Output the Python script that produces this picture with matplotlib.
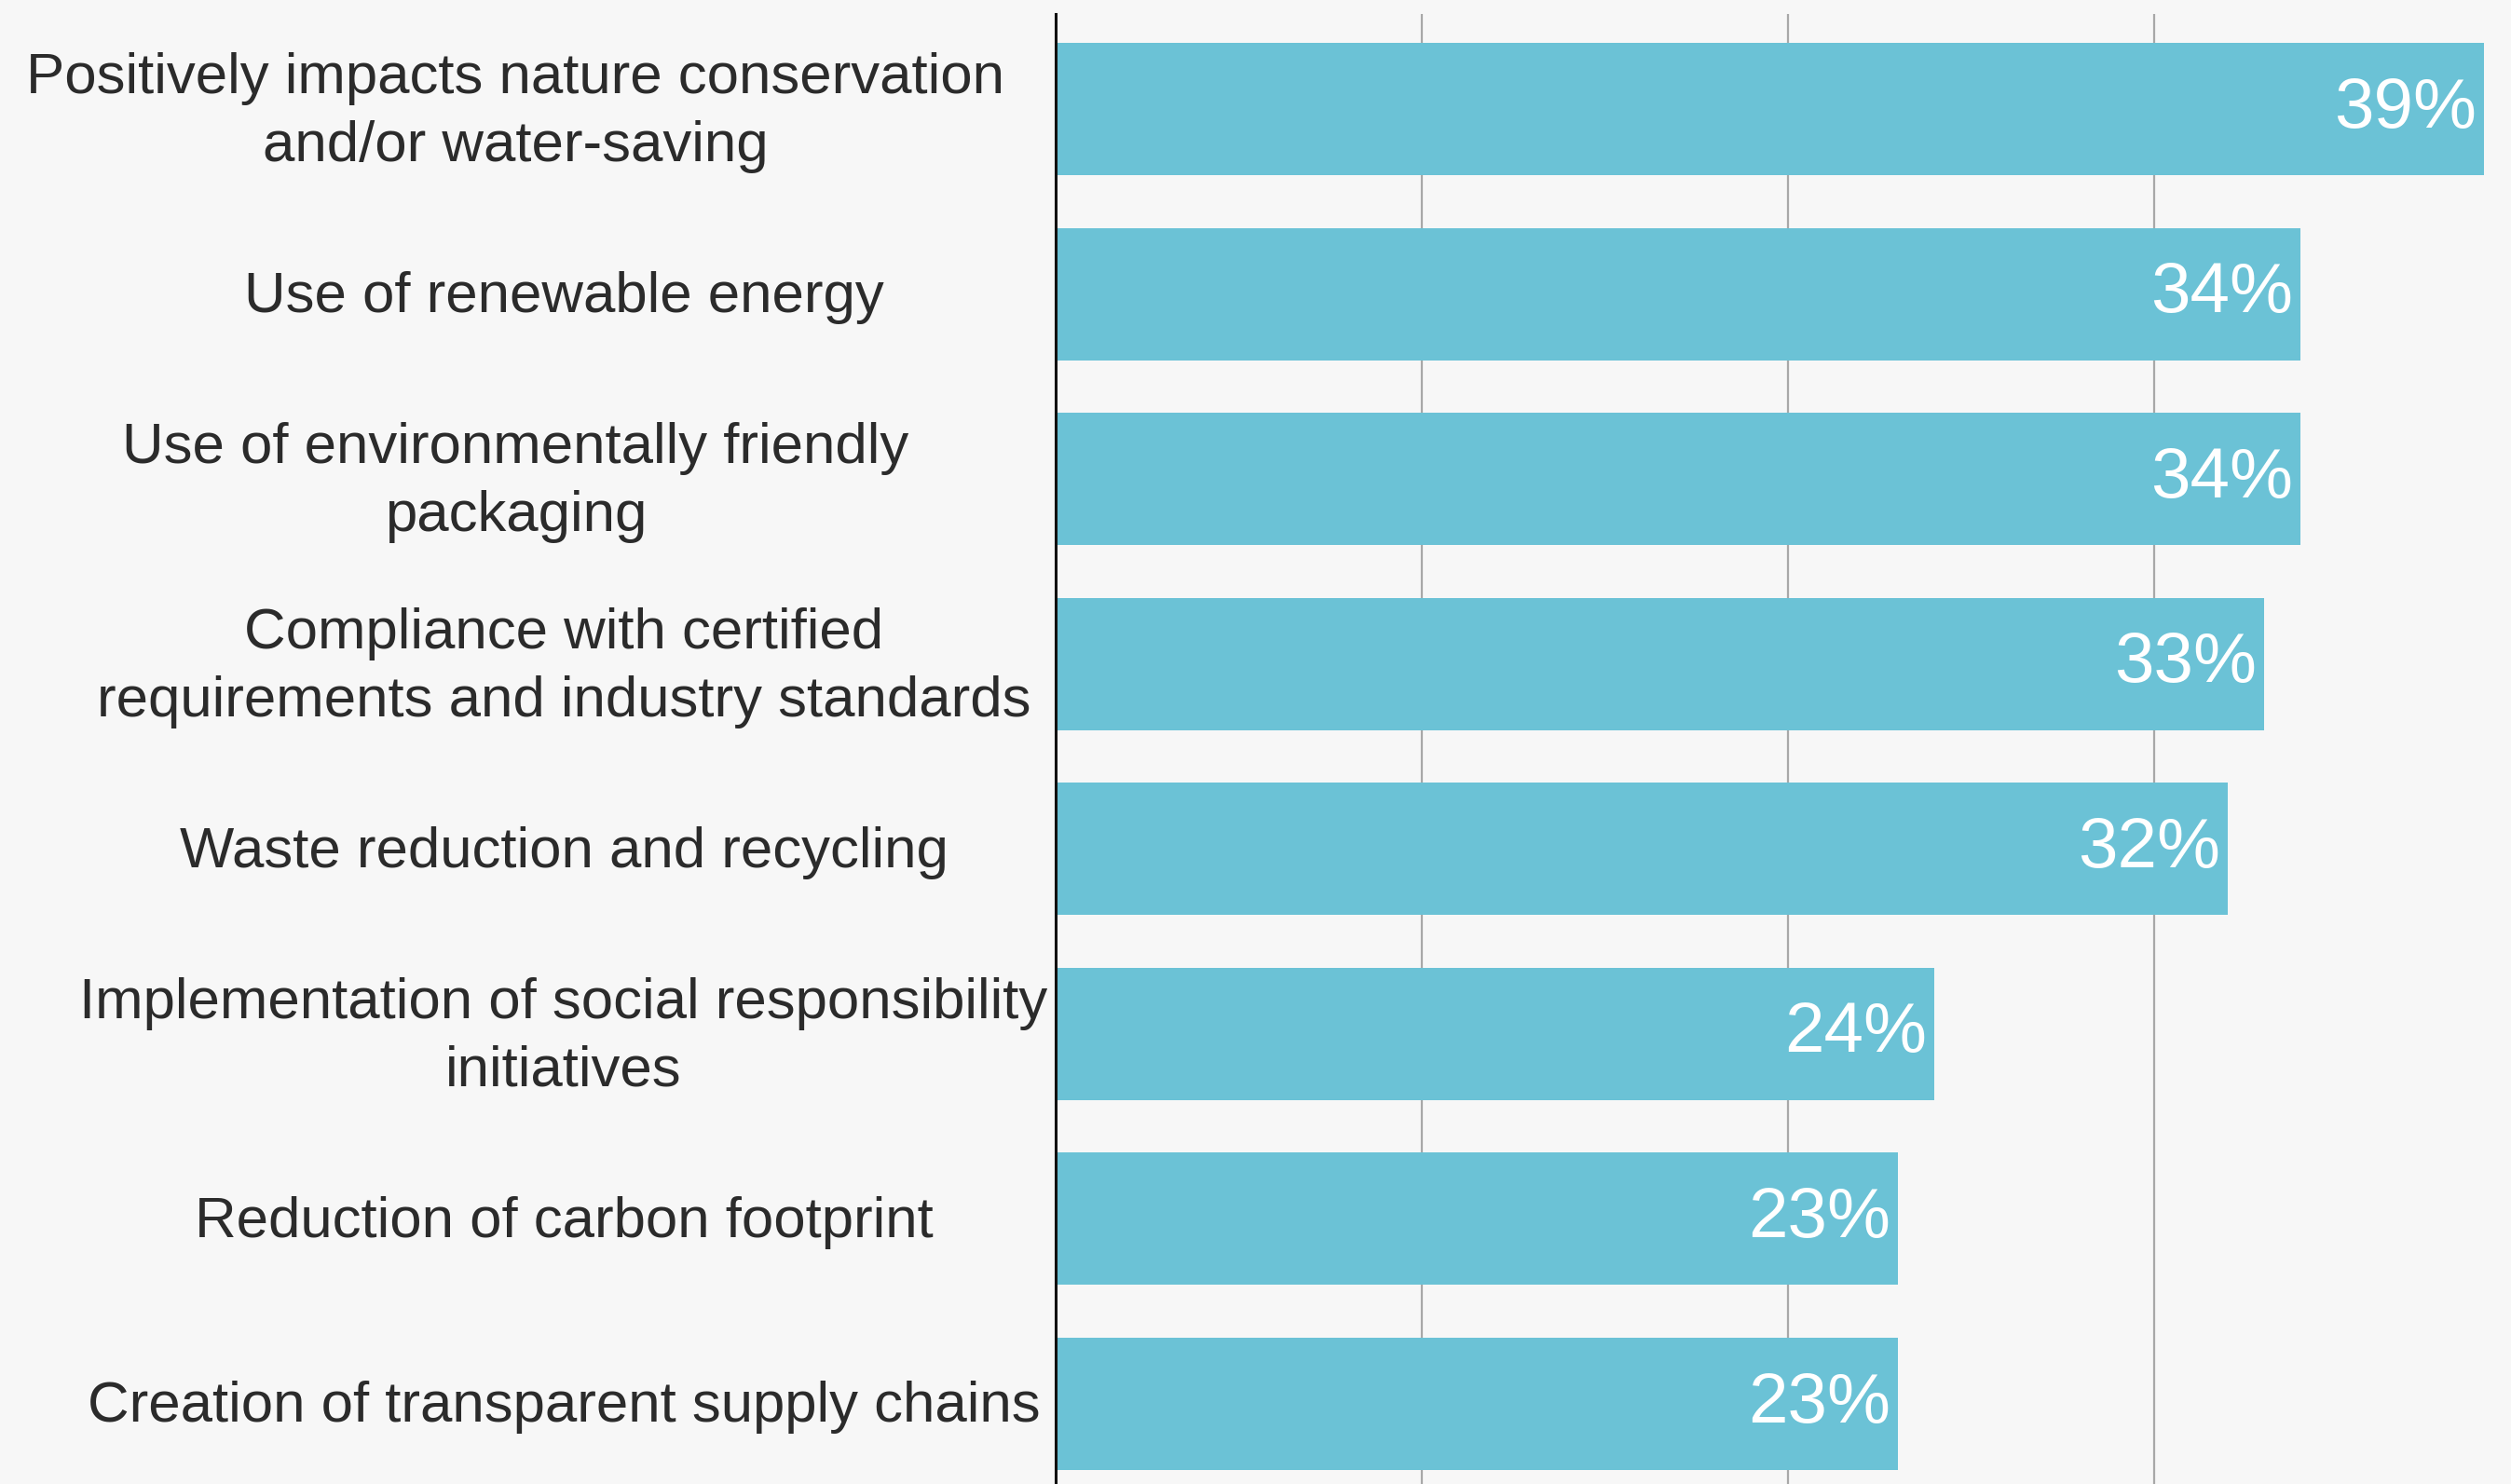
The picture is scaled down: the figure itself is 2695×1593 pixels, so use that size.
import matplotlib
matplotlib.use("Agg")
import matplotlib.pyplot as plt
from matplotlib.transforms import blended_transform_factory

# ── Data ─────────────────────────────────────────────────────────────────────
CATEGORIES = [
    "Positively impacts nature conservation\nand/or water-saving",
    "Use of renewable energy",
    "Use of environmentally friendly\npackaging",
    "Compliance with certified\nrequirements and industry standards",
    "Waste reduction and recycling",
    "Implementation of social responsibility\ninitiatives",
    "Reduction of carbon footprint",
    "Creation of transparent supply chains",
]
VALUES = [39, 34, 34, 33, 32, 24, 23, 23]

# ── Style ────────────────────────────────────────────────────────────────────
BG = "#f7f7f7"
BAR = "#6bc2d6"
TEXT = "#2b2b2b"
FONT = "Liberation Sans"

W, H = 2695, 1593
fig = plt.figure(figsize=(W / 100, H / 100), dpi=100, facecolor=BG)
ax = fig.add_axes([1133 / W, 0, 1 - 1133 / W, 1 - 15 / H], facecolor=BG)

y = list(range(len(VALUES)))
ax.barh(y, VALUES, height=0.715, color=BAR, zorder=2)

ax.set_xlim(0, 39.74)
ax.set_ylim(7.433, -0.514)
ax.set_xticks([10, 20, 30])
ax.grid(axis="x", color="#a8a8a8", linewidth=1.6, zorder=1)
ax.tick_params(left=False, bottom=False, labelleft=False, labelbottom=False)
for s in ["top", "right", "bottom"]:
    ax.spines[s].set_visible(False)
ax.spines["left"].set_color("#111111")
ax.spines["left"].set_linewidth(2.2)
ax.spines["left"].set_zorder(3)

# category labels, centred in the left margin
trans = blended_transform_factory(ax.transAxes, ax.transData)
for i, (cat, v) in enumerate(zip(CATEGORIES, VALUES)):
    xc = -0.371 if i in (0, 2) else -0.338
    ax.text(xc, i + 0.02, cat, transform=trans, ha="center", va="center",
            fontsize=44.5, color=TEXT, family=FONT, linespacing=1.36)
    ax.text(v - 0.2, i, f"{v}%", ha="right", va="center",
            fontsize=55, color="white", family=FONT, zorder=4)

fig.savefig("out.png", dpi=100, facecolor=BG)
